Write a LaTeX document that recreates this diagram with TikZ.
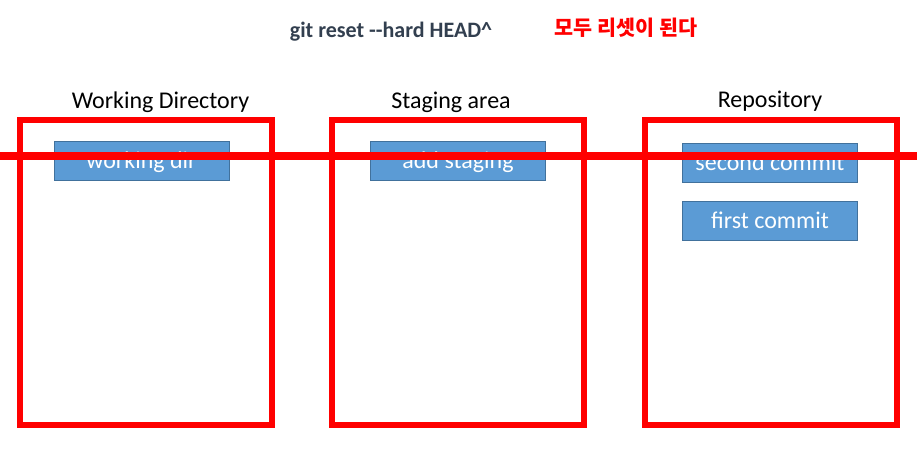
\documentclass[tikz,border=0pt]{standalone}
\usepackage{fontspec}
\setmainfont{Carlito}
\newfontfamily\krfont{Noto Sans CJK KR}
\definecolor{boxblue}{HTML}{5B9BD5}
\definecolor{boxedge}{HTML}{41719C}
\definecolor{titlegray}{HTML}{323F4F}
\tikzset{
  area/.style={draw=red, line width=6pt},
  entry/.style={draw=boxedge, fill=boxblue, line width=0.8pt, minimum width=175pt,
    minimum height=39pt, inner sep=0pt, text height=18pt, text depth=3pt,
    text=white, font=\fontsize{24}{24}\selectfont},
  areatitle/.style={font=\fontsize{24}{24}\selectfont, anchor=base}
}
\begin{document}
\begin{tikzpicture}[x=1pt,y=-1pt]
	\useasboundingbox (0,0) rectangle (917,456);
	% command on top
	\node[font=\bfseries\fontsize{22}{22}\selectfont, text=titlegray, anchor=base] (cmd) at (391,37.5) {git reset -{}-hard HEAD\^{}};
	\node[font=\krfont\bfseries\fontsize{20.7}{21}\selectfont, text=red, anchor=base] (note) at (626,35.5) {모두 리셋이 된다};

	% the three areas
	\node[areatitle] (wdtitle) at (160.5,108) {Working Directory};
	\node[areatitle] (sgtitle) at (451,108) {Staging area};
	\node[areatitle] (rptitle) at (770,107) {Repository};
	\draw[area] (20,120) rectangle (271.5,425);
	\draw[area] (332,120) rectangle (583.5,425);
	\draw[area] (644.5,120) rectangle (897,425);

	% contents
	\node[entry] (wd) at (141.5,160.5) {working dir};
	\node[entry] (add) at (458,160.5) {add staging};
	\node[entry] (second) at (770,162.5) {second commit};
	\node[entry] (first) at (770,220.5) {first commit};

	% everything is reset
	\draw[red, line width=7.5pt] (0,156) -- (917,156);
\end{tikzpicture}
\end{document}
